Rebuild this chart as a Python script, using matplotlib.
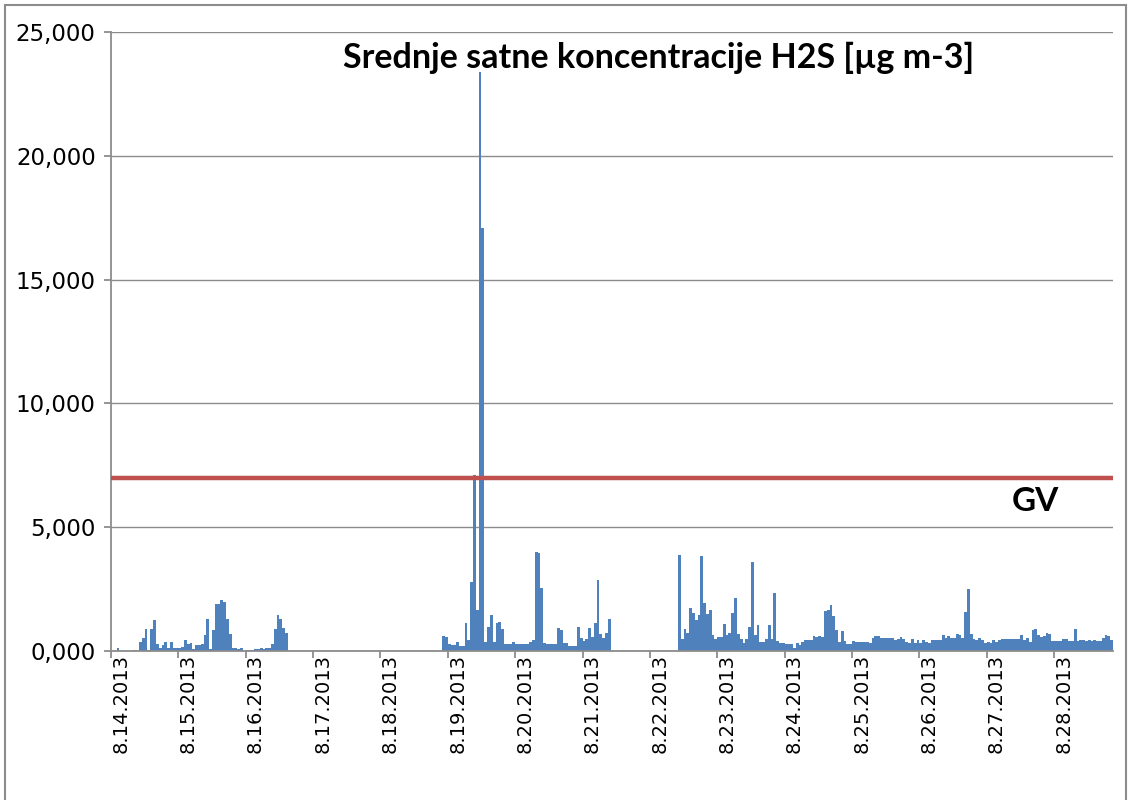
import matplotlib
matplotlib.use("Agg")
import matplotlib.pyplot as plt
from matplotlib.ticker import FuncFormatter
from matplotlib.patches import Rectangle
import numpy as np

# hourly H2S averages, one list per day (8.14 - 8.28.2013)
day_14 = [0, 0, 110, 0, 0, 0, 0, 0, 55, 0, 365, 510, 875, 30, 875, 1240, 300, 110, 240, 360, 110, 360, 135, 135]
day_15 = [110, 160, 460, 300, 320, 70, 240, 240, 270, 650, 1280, 70, 835, 1910, 1910, 2060, 1960, 1280, 700, 110, 110, 70, 110, 0]
day_16 = [30, 30, 30, 70, 70, 110, 70, 110, 110, 270, 875, 1455, 1280, 910, 740, 0, 0, 0, 0, 0, 0, 0, 0, 0]
day_17 = [0] * 24
day_18 = [0] * 22 + [605, 565]
day_19 = [300, 240, 240, 360, 200, 200, 1145, 445, 2800, 7100, 1640, 23400, 17100, 360, 960, 1455, 360, 1120, 1185, 875, 270, 270, 270, 350]
day_20 = [270, 270, 270, 270, 270, 350, 445, 4000, 3950, 2530, 335, 270, 270, 270, 270, 910, 835, 310, 310, 200, 200, 200, 980, 510]
day_21 = [400, 485, 910, 565, 1145, 2860, 675, 510, 740, 1280] + [0] * 14
day_22 = [0] * 10 + [3880, 500, 875, 710, 1720, 1550, 1250, 1450, 3840, 1950, 1480, 1655, 630, 500]
day_23 = [580, 580, 1075, 630, 710, 1550, 2155, 670, 500, 310, 500, 980, 3590, 630, 1035, 365, 365, 500, 1050, 470, 2330, 400, 335, 310]
day_24 = [295, 270, 270, 110, 320, 255, 360, 455, 455, 455, 620, 580, 620, 580, 1615, 1655, 1860, 1410, 835, 360, 810, 400, 295, 295]
day_25 = [400, 360, 360, 360, 360, 365, 325, 540, 590, 590, 540, 540, 540, 540, 540, 455, 500, 565, 500, 365, 325, 500, 325, 430]
day_26 = [325, 430, 365, 325, 430, 430, 455, 455, 660, 540, 590, 540, 540, 700, 635, 540, 1575, 2520, 700, 500, 430, 540, 430, 325]
day_27 = [365, 325, 430, 350, 430, 470, 470, 470, 470, 470, 470, 470, 635, 430, 540, 365, 860, 900, 660, 565, 590, 740, 670, 390]
day_28 = [390, 390, 390, 485, 485, 390, 390, 900, 390, 430, 430, 390, 430, 390, 430, 390, 390, 540, 635, 590, 455]

day_labels = ['8.14.2013', '8.15.2013', '8.16.2013', '8.17.2013', '8.18.2013',
              '8.19.2013', '8.20.2013', '8.21.2013', '8.22.2013', '8.23.2013',
              '8.24.2013', '8.25.2013', '8.26.2013', '8.27.2013', '8.28.2013']
gv_limit = 7000
y_ticks = [0, 5000, 10000, 15000, 20000, 25000]


def main():
    values = (day_14 + day_15 + day_16 + day_17 + day_18 + day_19 + day_20 + day_21
              + day_22 + day_23 + day_24 + day_25 + day_26 + day_27 + day_28)
    hours = np.arange(len(values))

    fig = plt.figure(figsize=(11.3, 8), dpi=100)
    ax = fig.add_axes([111 / 1130, 1 - 651 / 800, (1113 - 111) / 1130, (651 - 32) / 800])

    ax.bar(hours, values, width=1.0, align='edge', color='#4F81BD', linewidth=0, zorder=2)
    ax.plot([0, len(values)], [gv_limit, gv_limit], color='#C0504D', linewidth=3.2, zorder=3)

    ax.set_xlim(0, len(values))
    ax.set_ylim(0, 25000)

    ax.set_yticks(y_ticks)
    ax.yaxis.set_major_formatter(FuncFormatter(lambda v, p: f"{v / 1000:.3f}".replace('.', ',')))

    # tick marks at midnight, labels sit a few hours to the right (as in Excel)
    day_starts = np.arange(len(day_labels)) * 24
    ax.set_xticks(day_starts)
    ax.set_xticklabels([])
    ax.set_xticks(day_starts + 3.5, minor=True)
    ax.set_xticklabels(day_labels, minor=True, rotation=90, fontsize=14,
                       family=['Liberation Sans Narrow', 'DejaVu Sans'])
    ax.tick_params(axis='x', which='minor', length=0, pad=2)

    for lab in ax.get_yticklabels():
        lab.set_fontsize(16.5)

    ax.grid(axis='y', which='major', color='#8C8C8C', linewidth=1.0, zorder=0)
    for side in ['top', 'right']:
        ax.spines[side].set_visible(False)
    for side in ['left', 'bottom']:
        ax.spines[side].set_color('#8C8C8C')
        ax.spines[side].set_linewidth(1.3)
    ax.tick_params(axis='both', which='major', color='#8C8C8C', length=5, width=1.3, direction='out')
    ax.tick_params(axis='y', pad=6)

    ax.text(0.546, 0.958, 'Srednje satne koncentracije H2S [µg m-3]', transform=ax.transAxes,
            ha='center', va='center', fontsize=24.5, fontweight='bold', family='Lato')
    ax.text(0.923, 0.242, 'GV', transform=ax.transAxes,
            ha='center', va='center', fontsize=24, fontweight='bold', family='Lato')

    # frame around the whole picture
    fig.patches.append(Rectangle((5 / 1130, -0.01), 1121 / 1130, 1.0 - 5 / 800 + 0.01,
                                 transform=fig.transFigure, fill=False,
                                 edgecolor='#8C8C8C', linewidth=1.5))

    fig.savefig('out.png', dpi=100)


if __name__ == "__main__":
    main()
